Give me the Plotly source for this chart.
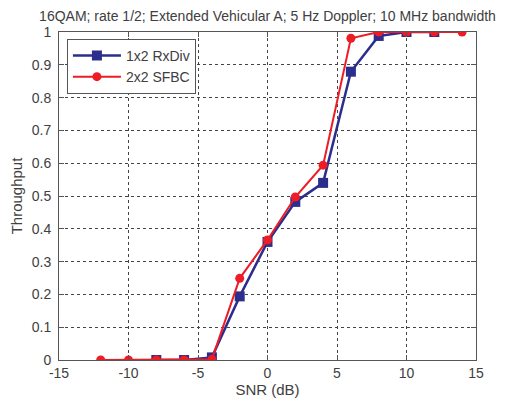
import plotly.graph_objects as go

snr_rxdiv = [-8, -6, -4, -2, 0, 2, 4, 6, 8, 10, 12]
thr_rxdiv = [0.0, 0.0, 0.008, 0.194, 0.36, 0.482, 0.54, 0.879, 0.988, 1.0, 1.0]

snr_sfbc = [-12, -10, -8, -6, -4, -2, 0, 2, 4, 6, 8, 10, 12, 14]
thr_sfbc = [0.0, 0.0, 0.0, 0.0, 0.002, 0.249, 0.366, 0.497, 0.594, 0.981, 1.0, 1.0, 1.0, 1.0]

x_ticks = [-15, -10, -5, 0, 5, 10, 15]
x_labels = ["-15", "-10", "-5", "0", "5", "10", "15"]
y_ticks = [0, 0.1, 0.2, 0.3, 0.4, 0.5, 0.6, 0.7, 0.8, 0.9, 1]
y_labels = ["0", "0.1", "0.2", "0.3", "0.4", "0.5", "0.6", "0.7", "0.8", "0.9", "1"]

blue = "#2B2E8C"
red = "#EE1C25"

fig = go.Figure()
fig.add_trace(go.Scatter(x=snr_rxdiv, y=thr_rxdiv, mode="lines+markers", name="1x2 RxDiv",
                         line=dict(color=blue, width=2.5),
                         marker=dict(symbol="square", size=10, color=blue)))
fig.add_trace(go.Scatter(x=snr_sfbc, y=thr_sfbc, mode="lines+markers", name="2x2 SFBC",
                         line=dict(color=red, width=2),
                         marker=dict(symbol="circle", size=9, color=red)))

axis_common = dict(showline=True, linecolor="#555555", linewidth=1, mirror="allticks",
                   ticks="inside", ticklen=5, tickcolor="#555555",
                   showgrid=True, gridcolor="#444444", griddash="dot", gridwidth=1,
                   zeroline=False, automargin=False,
                   tickfont=dict(size=14, color="#404040"))

fig.update_layout(
    width=503, height=397,
    margin=dict(l=51, r=35, t=24, b=45),
    paper_bgcolor="white", plot_bgcolor="white",
    font=dict(family="Liberation Sans, Arial, sans-serif", color="#404040"),
    title=dict(text="16QAM; rate 1/2; Extended Vehicular A; 5 Hz Doppler; 10 MHz bandwidth",
               x=0.5, xref="paper", xanchor="center", y=0.979, yref="container",
               yanchor="middle", automargin=False,
               font=dict(size=14, color="#404040")),
    xaxis=dict(range=[-15, 15], tickvals=x_ticks, ticktext=x_labels, ticklabelstandoff=0,
               title=dict(text="SNR (dB)", standoff=0, font=dict(size=15)), **axis_common),
    yaxis=dict(range=[0, 1], tickvals=y_ticks, ticktext=y_labels, ticklabelstandoff=4,
               title=dict(text="Throughput", standoff=9, font=dict(size=15)), **axis_common),
    legend=dict(x=0.019, y=0.979, xanchor="left", yanchor="top",
                bgcolor="white", bordercolor="#555555", borderwidth=1,
                font=dict(size=14, color="#404040"), itemwidth=48),
    showlegend=True,
)

fig.write_html("out.html")
